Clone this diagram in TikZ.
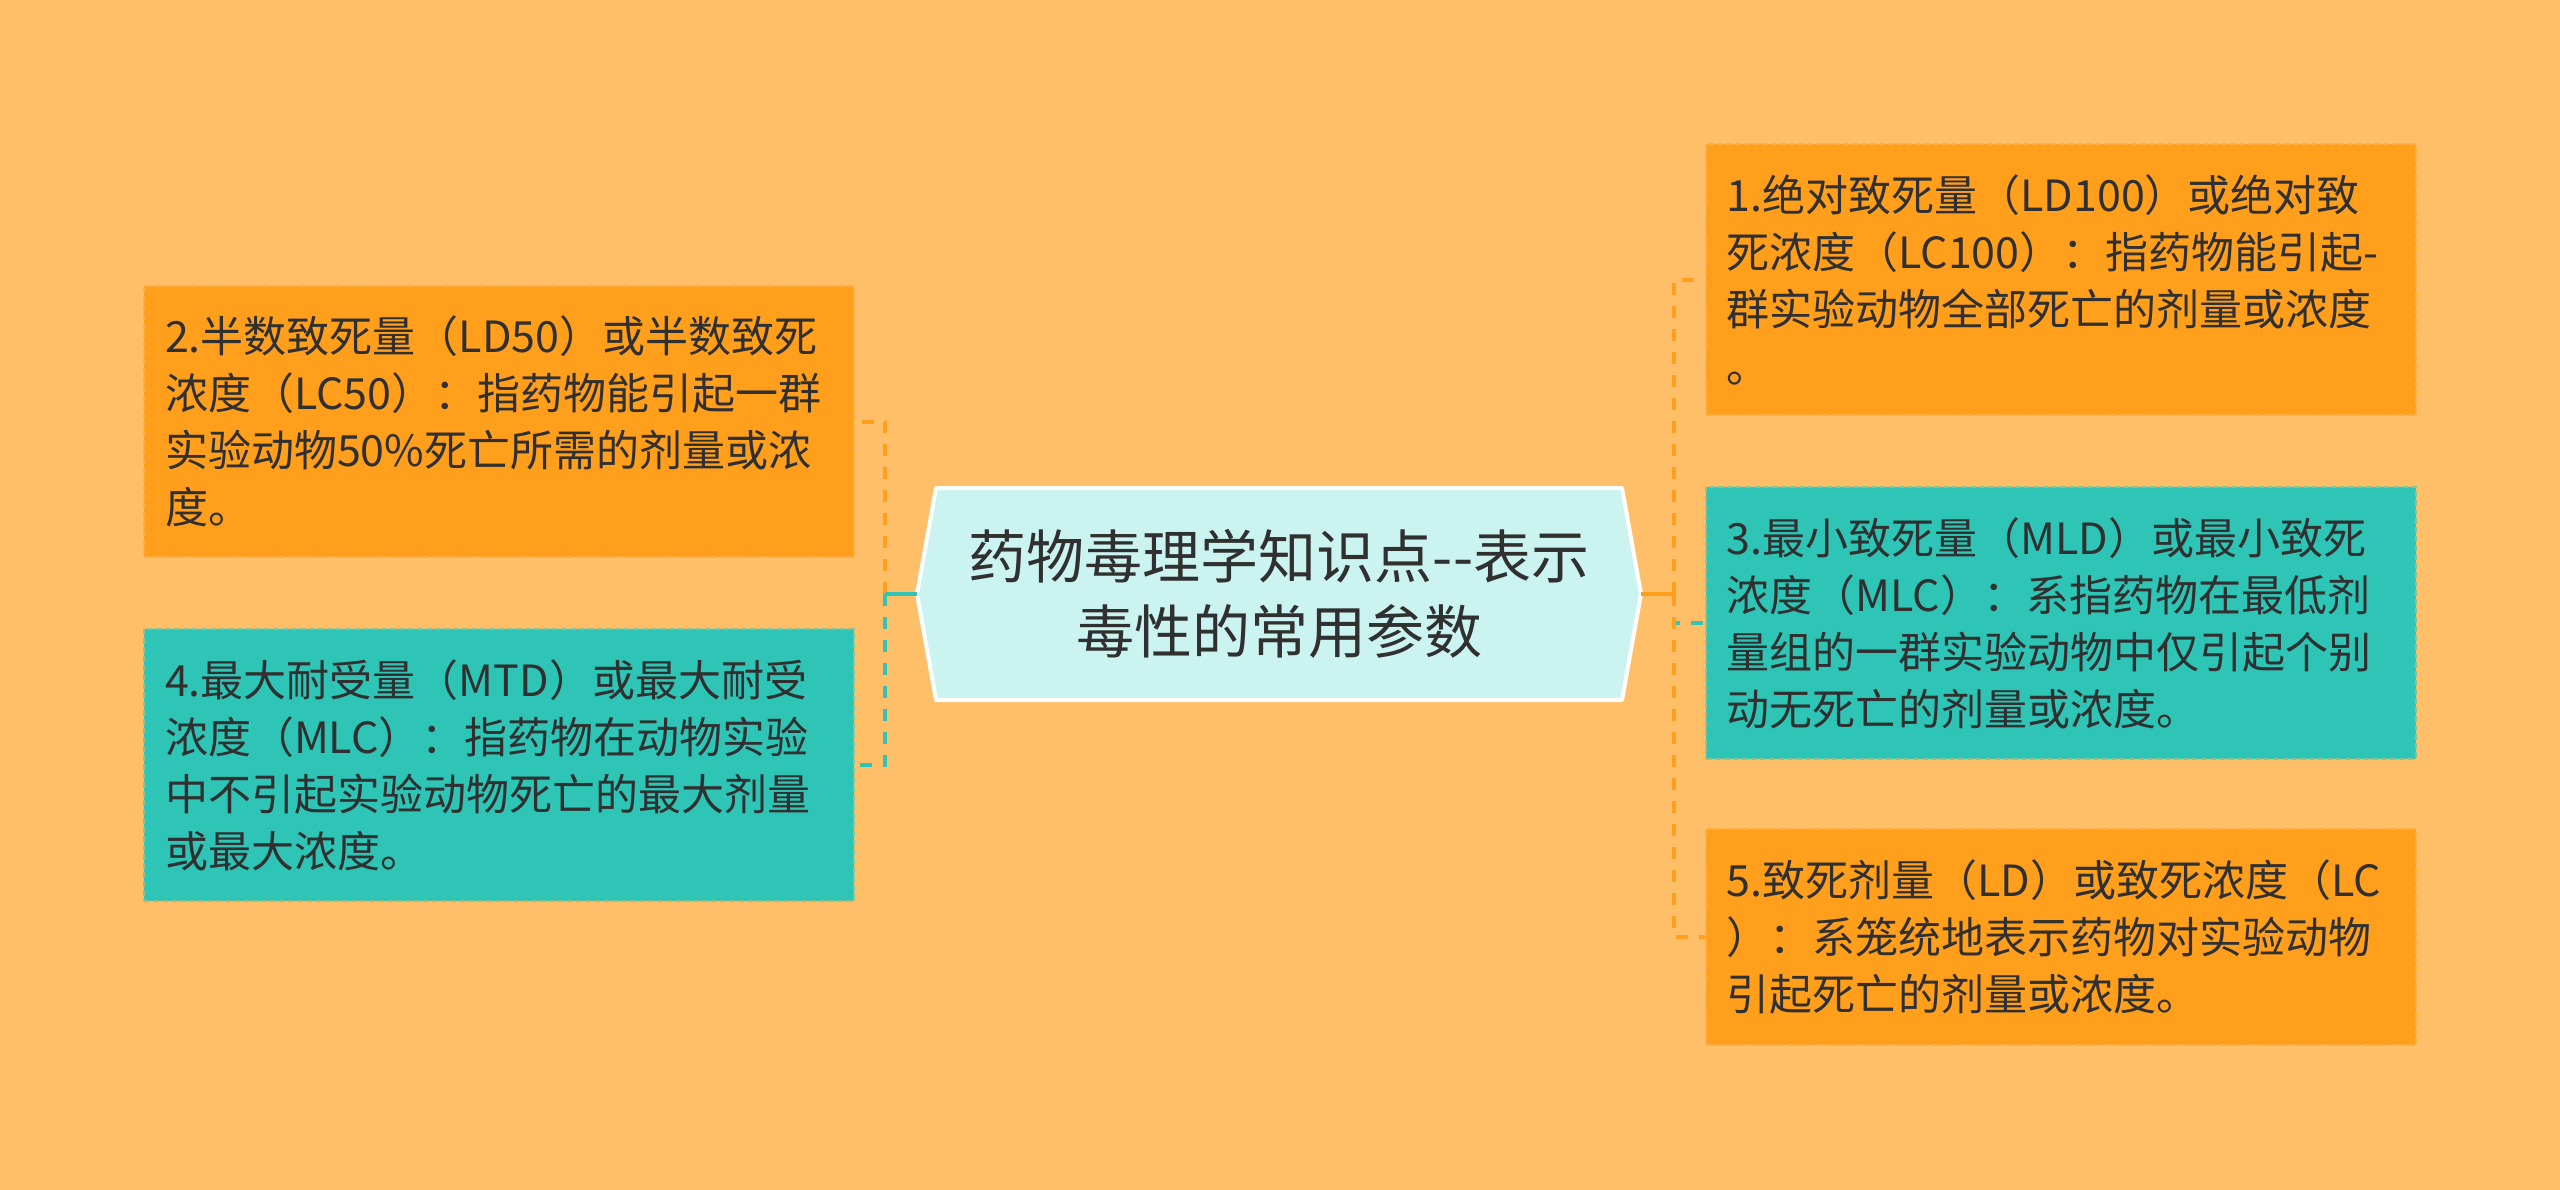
\documentclass[tikz,border=0pt]{standalone}
\usepackage{fontspec}
\setmainfont{Noto Sans CJK SC}
\usetikzlibrary{positioning}

\definecolor{bgc}{HTML}{FFBF69}
\definecolor{orangebox}{HTML}{FF9F1C}
\definecolor{tealbox}{HTML}{2EC4B6}
\definecolor{hubfill}{HTML}{CBF3F0}
\definecolor{inkc}{HTML}{303030}

\begin{document}
\begin{tikzpicture}[x=0.5pt,y=-0.5pt,
  item/.style={rectangle,inner xsep=10.5pt,inner ysep=0pt,text width=334pt,align=left,
    text=inkc,font=\fontsize{21.5}{28.5}\selectfont,dash pattern=on 3pt off 1.5pt,line width=1pt},
  obox/.style={item,fill=orangebox,draw=orangebox!50!bgc},
  tbox/.style={item,fill=tealbox,draw=tealbox!55!bgc},
  hubtext/.style={inner sep=0pt,minimum width=362pt,minimum height=106pt,align=center,
    text=inkc,font=\fontsize{29}{37.5}\selectfont},
  oline/.style={draw=orangebox,line width=2pt,dash pattern=on 6pt off 5.5pt},
  tline/.style={draw=tealbox,line width=2pt,dash pattern=on 6pt off 5.5pt},
  ostub/.style={draw=orangebox,line width=2pt},
  tstub/.style={draw=tealbox,line width=2pt}]
  \useasboundingbox (0,0) rectangle (2560,1189);
  \fill[bgc] (-20,-20) rectangle (2580,1209);

  % centre topic
  \filldraw[fill=hubfill,draw=white,line width=2pt,line join=round]
    (917,594) -- (936,488) -- (1622,488) -- (1641,594) -- (1622,700) -- (936,700) -- cycle;
  \node[hubtext] (hub) at (1279,594) {药物毒理学知识点-\kern0pt-表示\\毒性的常用参数};

  % left branches
  \node[obox,minimum height=135.5pt] (b2) at (499,421.5)
    {2.半数致死量（LD50）或半数致死\\浓度（LC50）：指药物能引起一群\\实验动物50\%死亡所需的剂量或浓\\度。};
  \node[tbox,minimum height=136pt] (b4) at (499,765)
    {4.最大耐受量（MTD）或最大耐受\\浓度（MLC）：指药物在动物实验\\中不引起实验动物死亡的最大剂量\\或最大浓度。};

  % right branches
  \node[obox,minimum height=135.5pt] (b1) at (2060.5,279.5)
    {1.绝对致死量（LD100）或绝对致\\死浓度（LC100）：指药物能引起-\\群实验动物全部死亡的剂量或浓度\\。};
  \node[tbox,minimum height=136pt] (b3) at (2060.5,623)
    {3.最小致死量（MLD）或最小致死\\浓度（MLC）：系指药物在最低剂\\量组的一群实验动物中仅引起个别\\动无死亡的剂量或浓度。};
  \node[obox,minimum height=108pt] (b5) at (2060.5,937)
    {5.致死剂量（LD）或致死浓度（LC\\）：系笼统地表示药物对实验动物\\引起死亡的剂量或浓度。};

  \coordinate (jl) at (885,594);
  \coordinate (jr) at (1674,594);

  \draw[oline] (jl) |- (b2.east);
  \draw[tline] (jl) |- (b4.east);
  \draw[tstub] (hub.west) -- (jl);

  \draw[tline] (jr) |- (b3.west);
  \draw[oline] (jr) |- (b1.west);
  \draw[oline] (jr) |- (b5.west);
  \draw[ostub] (hub.east) -- (jr);
\end{tikzpicture}
\end{document}
